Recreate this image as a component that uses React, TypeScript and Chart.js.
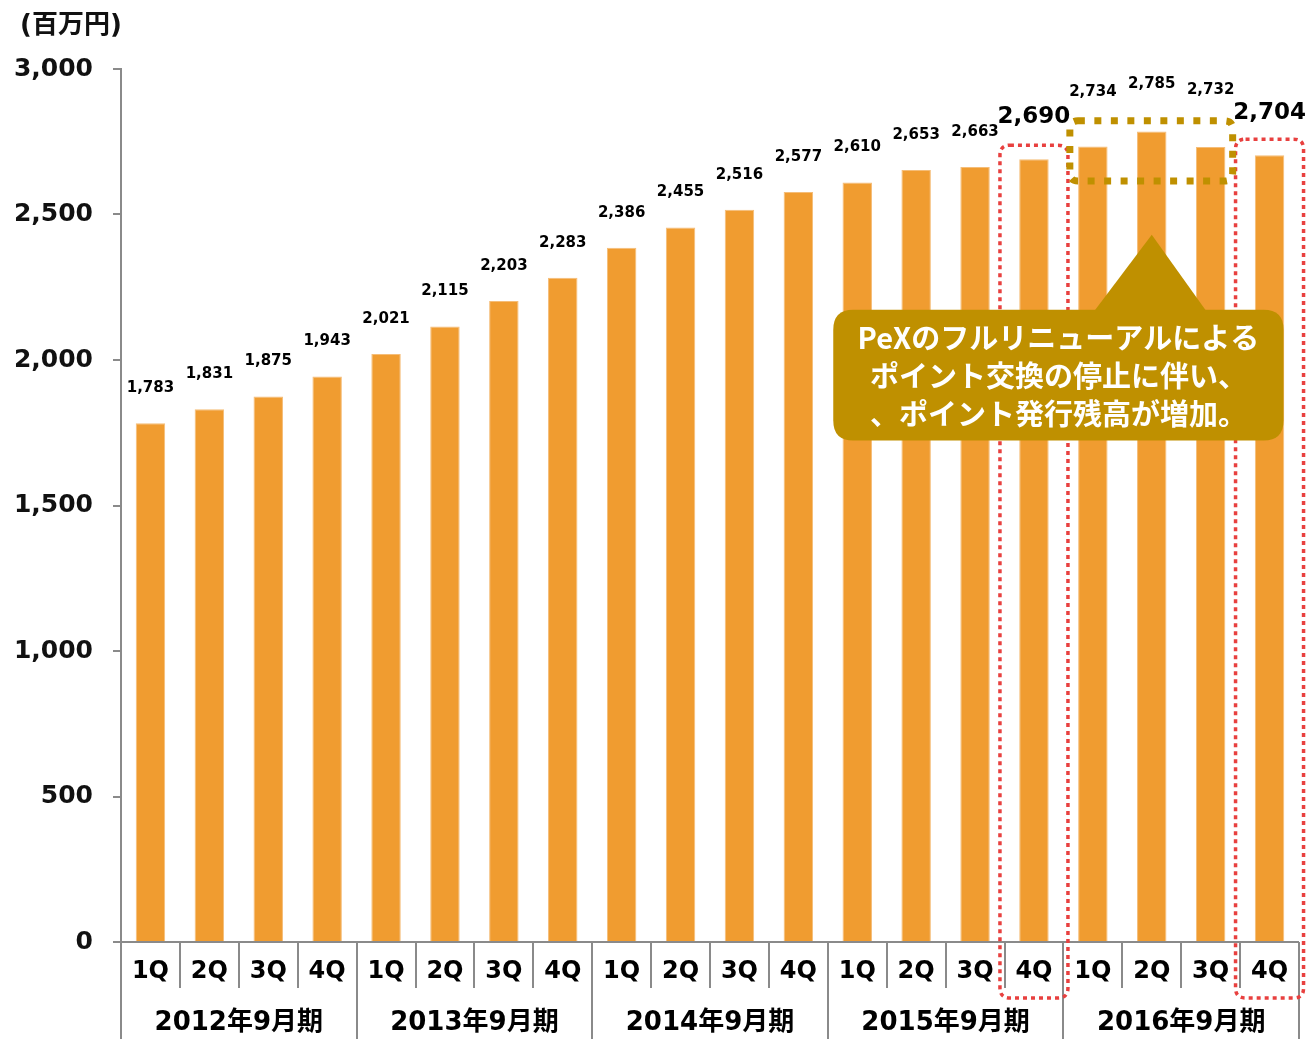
import React, { useEffect, useRef } from "react";
import { Chart, registerables } from "chart.js";

Chart.register(...registerables);

const categories = [
  "1Q", "2Q", "3Q", "4Q",
  "1Q", "2Q", "3Q", "4Q",
  "1Q", "2Q", "3Q", "4Q",
  "1Q", "2Q", "3Q", "4Q",
  "1Q", "2Q", "3Q", "4Q",
];
const fiscalYears = ["2012年9月期", "2013年9月期", "2014年9月期", "2015年9月期", "2016年9月期"];
const balances = [
  1783, 1831, 1875, 1943,
  2021, 2115, 2203, 2283,
  2386, 2455, 2516, 2577,
  2610, 2653, 2663, 2690,
  2734, 2785, 2732, 2704,
];
const unitLabel = "(百万円)";
const calloutLines = [
  "PeXのフルリニューアルによる",
  "ポイント交換の停止に伴い、",
  "、ポイント発行残高が増加。",
];
const highlightIdx = [15, 19];
const renewalIdx = [16, 17, 18];

const FONT = '"DejaVu Sans", "Noto Sans CJK JP", sans-serif';
const CJK = '"Noto Sans CJK JP", "DejaVu Sans", sans-serif';
const AXIS_GRAY = "#8a8a8a";
const RED = "#E8403F";
const GOLD = "#BF9000";

function roundRectPath(ctx: CanvasRenderingContext2D, x: number, y: number, w: number, h: number, r: number) {
  ctx.beginPath();
  ctx.moveTo(x + r, y);
  ctx.lineTo(x + w - r, y);
  ctx.quadraticCurveTo(x + w, y, x + w, y + r);
  ctx.lineTo(x + w, y + h - r);
  ctx.quadraticCurveTo(x + w, y + h, x + w - r, y + h);
  ctx.lineTo(x + r, y + h);
  ctx.quadraticCurveTo(x, y + h, x, y + h - r);
  ctx.lineTo(x, y + r);
  ctx.quadraticCurveTo(x, y, x + r, y);
  ctx.closePath();
}

const decorPlugin = {
  id: "decor",
  afterDraw(chart: any) {
    const ctx: CanvasRenderingContext2D = chart.ctx;
    const xs = chart.scales.x;
    const ys = chart.scales.y;
    const area = chart.chartArea;
    const H = chart.height;
    const step = xs.getPixelForValue(1) - xs.getPixelForValue(0);
    const half = step / 2;
    ctx.save();

    // unit label
    ctx.fillStyle = "#111";
    ctx.font = `bold 26px ${FONT}`;
    ctx.textAlign = "left";
    ctx.textBaseline = "middle";
    ctx.fillText(unitLabel, 20, 26);

    // x axis line
    ctx.strokeStyle = AXIS_GRAY;
    ctx.lineWidth = 2;
    ctx.setLineDash([]);
    ctx.beginPath();
    ctx.moveTo(area.left, area.bottom);
    ctx.lineTo(area.right, area.bottom);
    ctx.stroke();

    // separators
    for (let i = 0; i <= categories.length; i++) {
      const xb = Math.round(xs.getPixelForValue(0) - half + i * step);
      const yEnd = i % 4 === 0 ? H : area.bottom + 46;
      ctx.beginPath();
      ctx.moveTo(xb, area.bottom);
      ctx.lineTo(xb, yEnd);
      ctx.stroke();
    }

    // quarter labels
    ctx.fillStyle = "#000";
    ctx.textAlign = "center";
    ctx.font = `bold 24px ${FONT}`;
    categories.forEach((c, i) => {
      ctx.fillText(c, xs.getPixelForValue(i), area.bottom + 30);
    });
    // year labels
    ctx.font = `bold 26px ${FONT}`;
    fiscalYears.forEach((y, k) => {
      const xc = (xs.getPixelForValue(k * 4) + xs.getPixelForValue(k * 4 + 3)) / 2;
      ctx.fillText(y, xc, area.bottom + 81);
    });

    // data labels
    const meta = chart.getDatasetMeta(0);
    balances.forEach((v, i) => {
      const el = meta.data[i];
      const big = highlightIdx.includes(i);
      let off = 35;
      if (big) off = 42;
      if (i === 16) off = 54;
      if (i === 17) off = 47;
      if (i === 18) off = 57;
      ctx.font = big ? `bold 23px ${FONT}` : `bold 15px ${FONT}`;
      ctx.fillStyle = "#000";
      ctx.fillText(v.toLocaleString("en-US"), el.x, el.y - off);
    });

    // red dotted highlight boxes
    ctx.strokeStyle = RED;
    ctx.lineWidth = 3.5;
    ctx.setLineDash([4, 4]);
    highlightIdx.forEach((i) => {
      const cx = xs.getPixelForValue(i);
      const top = ys.getPixelForValue(balances[i]) - (i === 19 ? 16 : 14);
      const left = cx - 34;
      const right = cx + 34;
      const bottom = area.bottom + 56;
      roundRectPath(ctx, left, top, right - left, bottom - top, 10);
      ctx.stroke();
    });

    // gold dotted box around renewal quarters
    const gx0 = xs.getPixelForValue(renewalIdx[0]) - 23;
    const gx1 = xs.getPixelForValue(renewalIdx[renewalIdx.length - 1]) + 22;
    const gy0 = ys.getPixelForValue(2822);
    const gy1 = ys.getPixelForValue(2615);
    ctx.strokeStyle = GOLD;
    ctx.lineWidth = 7;
    ctx.setLineDash([7, 9.5]);
    roundRectPath(ctx, gx0, gy0, gx1 - gx0, gy1 - gy0, 8);
    ctx.stroke();
    ctx.setLineDash([]);

    // callout
    const bx0 = xs.getPixelForValue(12) - 24;
    const bx1 = xs.getPixelForValue(19) + 14;
    const by0 = ys.getPixelForValue(2173);
    const by1 = ys.getPixelForValue(1723);
    const apexX = xs.getPixelForValue(17);
    const apexY = ys.getPixelForValue(2430);
    ctx.fillStyle = GOLD;
    ctx.beginPath();
    ctx.moveTo(apexX, apexY);
    ctx.lineTo(apexX + 55, by0 + 2);
    ctx.lineTo(apexX - 58, by0 + 2);
    ctx.closePath();
    ctx.fill();
    roundRectPath(ctx, bx0, by0, bx1 - bx0, by1 - by0, 20);
    ctx.fill();

    ctx.fillStyle = "#fff";
    ctx.font = `bold 29px ${CJK}`;
    ctx.textAlign = "center";
    ctx.textBaseline = "middle";
    const tcx = (bx0 + bx1) / 2;
    const lh = 38;
    const tcy = (by0 + by1) / 2 + 1;
    calloutLines.forEach((t, k) => {
      ctx.fillText(t, tcx, tcy + (k - 1) * lh);
    });

    ctx.restore();
  },
};

export default function App() {
  const ref = useRef<HTMLCanvasElement | null>(null);
  useEffect(() => {
    if (!ref.current) return;
    const chart = new Chart(ref.current, {
      type: "bar",
      data: {
        labels: categories,
        datasets: [
          {
            data: balances,
            backgroundColor: "#F09C30",
            borderColor: "#F5BD78",
            borderWidth: 1,
            categoryPercentage: 1,
            barPercentage: 0.5,
          },
        ],
      },
      options: {
        responsive: false,
        animation: false,
        events: [],
        layout: { padding: { left: 0, right: 8, top: 69, bottom: 0 } },
        plugins: {
          legend: { display: false },
          tooltip: { enabled: false },
          title: { display: false },
        },
        scales: {
          x: {
            type: "category",
            ticks: { display: false },
            grid: { display: false },
            border: { display: false },
            afterFit: (s: any) => {
              s.height = 97;
            },
          },
          y: {
            min: 0,
            max: 3000,
            ticks: {
              stepSize: 500,
              padding: 20,
              color: "#111",
              font: { family: FONT, size: 25, weight: "bold" },
              callback: (v: any) => Number(v).toLocaleString("en-US"),
            },
            grid: {
              display: true,
              drawOnChartArea: false,
              drawTicks: true,
              tickLength: 8,
              color: AXIS_GRAY,
              lineWidth: 2,
            },
            border: { display: true, color: AXIS_GRAY, width: 2 },
            afterFit: (s: any) => {
              s.width = 121;
            },
          },
        },
      },
      plugins: [decorPlugin],
    });
    return () => chart.destroy();
  }, []);
  return (
    <div style={{ position: "absolute", left: 0, top: 0, width: 1307, height: 1039 }}>
      <canvas ref={ref} width={1307} height={1039} />
    </div>
  );
}
